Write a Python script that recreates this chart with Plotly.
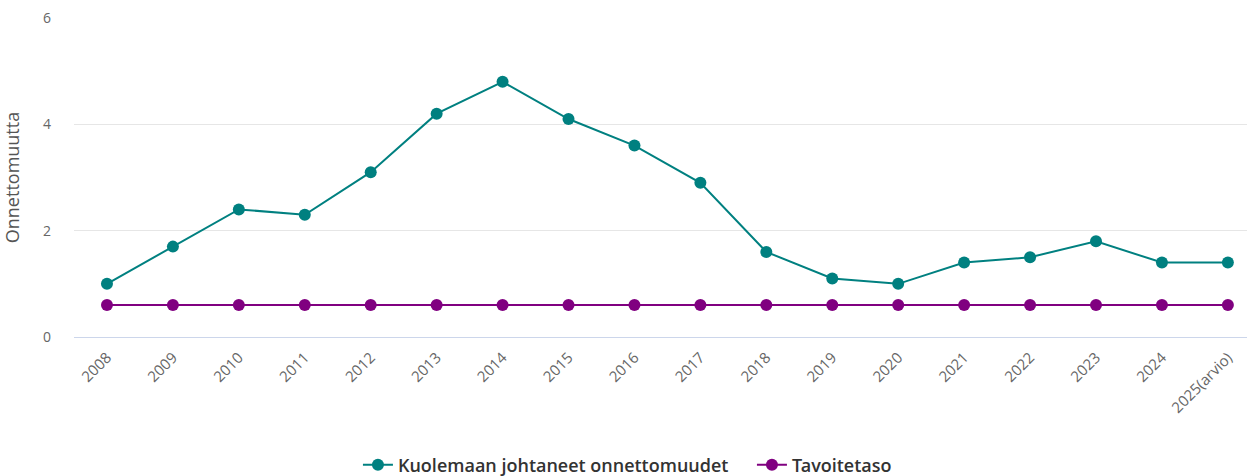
import plotly.graph_objects as go

# Vuodet ja arvot
vuodet = ['2008', '2009', '2010', '2011', '2012', '2013', '2014', '2015', '2016',
          '2017', '2018', '2019', '2020', '2021', '2022', '2023', '2024', '2025(arvio)']
kuolemaan = [1.0, 1.7, 2.4, 2.3, 3.1, 4.2, 4.8, 4.1, 3.6,
             2.9, 1.6, 1.1, 1.0, 1.4, 1.5, 1.8, 1.4, 1.4]
tavoite = [0.6] * len(vuodet)

TEAL = '#008080'
PURPLE = '#800080'

fig = go.Figure()
fig.add_trace(go.Scatter(
    x=vuodet, y=kuolemaan, name='Kuolemaan johtaneet onnettomuudet',
    mode='lines+markers', line=dict(color=TEAL, width=2),
    marker=dict(color=TEAL, size=12)
))
fig.add_trace(go.Scatter(
    x=vuodet, y=tavoite, name='Tavoitetaso',
    mode='lines+markers', line=dict(color=PURPLE, width=2),
    marker=dict(color=PURPLE, size=12)
))

fig.update_layout(
    width=1247, height=476,
    margin=dict(l=74, r=0, t=18, b=139),
    plot_bgcolor='white', paper_bgcolor='white',
    font=dict(family='Open Sans, sans-serif', color='#666666', size=14),
    legend=dict(orientation='h', xref='container', yref='container',
                x=0.603, xanchor='center', y=0.023, yanchor='middle',
                font=dict(size=18, color='#333333', family='Open Sans Semibold, Open Sans, sans-serif'),
                itemwidth=30, entrywidth=349),
    showlegend=True,
)
fig.update_xaxes(
    type='category', range=[-0.5, 17.29], tickangle=-45, automargin=False,
    showgrid=False, showline=False, ticks='', ticklabelstandoff=8,
    tickfont=dict(size=15, color='#666666')
)
fig.update_yaxes(
    range=[0, 6], tickvals=[0, 2, 4, 6], showgrid=True, gridcolor='#e6e6e6',
    zeroline=True, zerolinecolor='#ccd6eb', zerolinewidth=1, automargin=False,
    ticks='', ticklabelstandoff=22,
    title=dict(text='Onnettomuutta', font=dict(size=18, color='#555555'), standoff=19),
    tickfont=dict(size=14, color='#666666')
)

# body-marginaali pois, jotta kuva alkaa sivun kulmasta
fig.write_html('out.html', config={'displayModeBar': False},
               post_script="document.body.style.margin='0';")
